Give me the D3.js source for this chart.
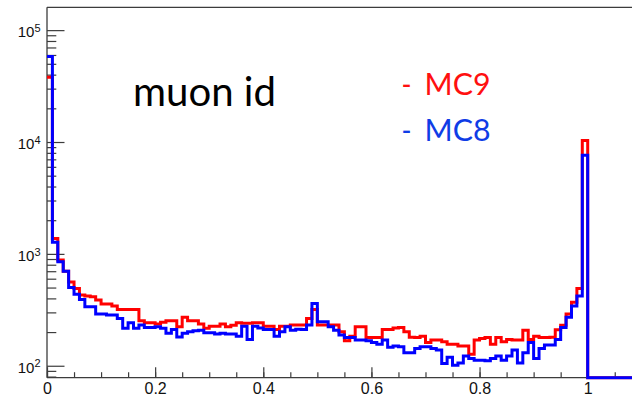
<!DOCTYPE html>
<html>
<head>
<meta charset="utf-8">
<script src="https://cdn.jsdelivr.net/npm/d3@7"></script>
<style>
  html, body { margin: 0; padding: 0; background: #fff; }
  svg { display: block; }
</style>
</head>
<body>
<svg id="chart" width="632" height="395"></svg>
<script>
// Histogram binning: 110 bins of width 0.01 starting at 0
const binWidth = 0.01;

// MC9 bin contents (red)
const mc9 = [
  38000, 1370, 880, 700, 560, 490, 430, 420, 414, 387,
  356, 356, 342, 319, 319, 319, 319, 252, 242, 242,
  236, 245, 252, 252, 223, 271, 252, 252, 236, 216,
  226, 226, 236, 223, 230, 242, 240, 240, 242, 242,
  226, 226, 211, 226, 226, 231, 231, 231, 265, 319,
  231, 231, 231, 231, 201, 167, 184, 223, 223, 179,
  179, 179, 211, 211, 218, 220, 201, 180, 179, 184,
  161, 170, 170, 164, 156, 156, 150, 150, 127, 170,
  175, 179, 156, 179, 164, 172, 170, 170, 208, 172,
  184, 179, 179, 180, 210, 230, 290, 370, 490, 10300,
  0, 0, 0, 0, 0, 0, 0, 0, 0, 0
];

// MC8 bin contents (blue)
const mc8 = [
  58000, 1270, 850, 700, 500, 435, 392, 337, 337, 290,
  290, 284, 284, 265, 216, 242, 216, 231, 220, 220,
  223, 216, 195, 211, 181, 195, 201, 206, 208, 197,
  197, 192, 195, 192, 192, 184, 226, 172, 226, 218,
  211, 211, 184, 201, 223, 208, 212, 211, 231, 361,
  247, 247, 223, 208, 188, 179, 179, 170, 170, 167,
  161, 156, 170, 146, 150, 148, 131, 131, 143, 148,
  148, 143, 138, 105, 119, 101, 106, 122, 116, 112,
  112, 111, 116, 122, 112, 122, 138, 106, 131, 161,
  116, 143, 153, 153, 172, 220, 271, 342, 420, 7600,
  0, 0, 0, 0, 0, 0, 0, 0, 0, 0
];

const xTickValues = [0, 0.2, 0.4, 0.6, 0.8, 1];
const xTickLabels = ["0", "0.2", "0.4", "0.6", "0.8", "1"];
const yDecades = [2, 3, 4, 5];
const seriesNames = ["MC9", "MC8"];
const titleText = "muon id";

const histColors = { MC9: "#ff0000", MC8: "#0000ff" };
const legendColors = { MC9: "#ff1010", MC8: "#0f3ce6" };

const svg = d3.select("#chart");
const frame = { left: 47, top: 7.3, bottom: 377.7, right: 640 };

const x = d3.scaleLinear().domain([0, 1.1]).range([frame.left, frame.left + 540.7 * 1.1]);
const y = d3.scaleLog().domain([78.2, 1.6e5]).range([frame.bottom, frame.top]);

const axisColor = "#3c3c3c";

// frame (right side runs past the canvas edge)
const frameG = svg.append("g")
  .attr("stroke", axisColor).attr("stroke-width", 1.3).attr("fill", "none");
frameG.append("line").attr("x1", frame.left).attr("x2", frame.left)
  .attr("y1", frame.top).attr("y2", frame.bottom);
frameG.append("line").attr("x1", frame.left).attr("x2", frame.right)
  .attr("y1", frame.top).attr("y2", frame.top);
frameG.append("line").attr("x1", frame.left).attr("x2", frame.right)
  .attr("y1", frame.bottom).attr("y2", frame.bottom);

// x axis ticks, drawn inward
const xMinor = d3.range(0, 22).map(i => i * 0.05);
const xMinorAxis = d3.axisBottom(x).tickValues(xMinor).tickSize(-5.5).tickFormat("");
const xMajorAxis = d3.axisBottom(x).tickValues(xTickValues).tickSize(-10.5)
  .tickFormat((d, i) => xTickLabels[i]);

const gxMinor = svg.append("g").attr("transform", `translate(0,${frame.bottom})`).call(xMinorAxis);
const gxMajor = svg.append("g").attr("transform", `translate(0,${frame.bottom})`).call(xMajorAxis);
[gxMinor, gxMajor].forEach(g => {
  g.select(".domain").remove();
  g.selectAll(".tick line").attr("stroke", axisColor).attr("stroke-width", 1.2);
});
gxMajor.selectAll(".tick text")
  .attr("y", 0).attr("dy", 0)
  .attr("transform", "translate(0,15.8)")
  .attr("font-family", "'Liberation Sans', Arial, sans-serif")
  .attr("font-size", 16).attr("fill", "#111");

// y axis ticks: decades and the 2..9 subdivisions
const yMinor = [];
[1, 2, 3, 4, 5].forEach(dec => {
  for (let k = 2; k <= 9; k++) {
    const v = k * Math.pow(10, dec);
    if (v >= y.domain()[0] && v <= y.domain()[1]) yMinor.push(v);
  }
});
const yMajor = yDecades.map(d => Math.pow(10, d));

const gyMinor = svg.append("g").attr("transform", `translate(${frame.left},0)`)
  .call(d3.axisLeft(y).tickValues(yMinor).tickSize(-9.3).tickFormat(""));
const gyMajor = svg.append("g").attr("transform", `translate(${frame.left},0)`)
  .call(d3.axisLeft(y).tickValues(yMajor).tickSize(-17.5).tickFormat(""));
[gyMinor, gyMajor].forEach(g => {
  g.select(".domain").remove();
  g.selectAll(".tick line").attr("stroke", axisColor).attr("stroke-width", 1.2);
});

// decade labels as 10 with a raised exponent
const yLabels = svg.append("g")
  .attr("font-family", "'Liberation Sans', Arial, sans-serif")
  .attr("fill", "#111");
yDecades.forEach(d => {
  const t = yLabels.append("text")
    .attr("x", 40.5)
    .attr("y", y(Math.pow(10, d)) + 7.3)
    .attr("text-anchor", "end");
  t.append("tspan").attr("font-size", 15).text("10");
  t.append("tspan").attr("font-size", 11).attr("dy", -5.6).text(String(d));
});

// histograms
svg.append("defs").append("clipPath").attr("id", "plotClip")
  .append("rect").attr("x", frame.left - 1.5).attr("y", frame.top)
  .attr("width", 700).attr("height", frame.bottom - frame.top + 2);

function stepPoints(values) {
  const pts = [];
  values.forEach((v, i) => {
    const yy = v > 0 ? y(v) : y.range()[0];
    pts.push([x(i * binWidth), yy], [x((i + 1) * binWidth), yy]);
  });
  return pts;
}
const line = d3.line();
const histG = svg.append("g").attr("clip-path", "url(#plotClip)");
[["MC9", mc9], ["MC8", mc8]].forEach(([name, vals]) => {
  histG.append("path")
    .attr("d", line(stepPoints(vals)))
    .attr("fill", "none")
    .attr("stroke", histColors[name])
    .attr("stroke-width", 3)
    .attr("stroke-linejoin", "miter");
});

// title
svg.append("text")
  .attr("x", 133).attr("y", 105.5)
  .attr("font-family", "Lato, 'Open Sans', sans-serif")
  .attr("font-size", 40)
  .attr("fill", "#000")
  .attr("textLength", 143).attr("lengthAdjust", "spacingAndGlyphs")
  .text(titleText);

// legend entries
const legendRows = [
  { name: seriesNames[0], base: 95 },
  { name: seriesNames[1], base: 141 }
];
legendRows.forEach(r => {
  const g = svg.append("g")
    .attr("font-family", "Lato, 'Open Sans', sans-serif")
    .attr("font-size", 30)
    .attr("fill", legendColors[r.name]);
  g.append("text").attr("x", 401.5).attr("y", r.base)
    .attr("textLength", 10).attr("lengthAdjust", "spacingAndGlyphs")
    .text("-");
  g.append("text").attr("x", 424.5).attr("y", r.base)
    .attr("textLength", 66).attr("lengthAdjust", "spacingAndGlyphs")
    .text(r.name);
});
</script>
</body>
</html>
